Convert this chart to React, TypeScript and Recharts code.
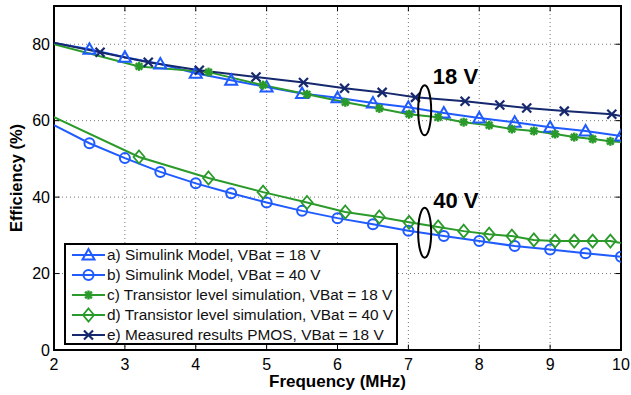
import { LineChart, Line, XAxis, YAxis, CartesianGrid, ReferenceLine, ReferenceArea, ReferenceDot, Label } from 'recharts'

const freqSimulink = [2, 2.5, 3, 3.5, 4, 4.5, 5, 5.5, 6, 6.5, 7, 7.5, 8, 8.5, 9, 9.5, 10]
const effSimulink18 = [80.3, 78.7, 76.6, 74.8, 72.4, 70.6, 68.8, 67.1, 66.0, 64.6, 63.5, 62.0, 60.7, 59.6, 58.3, 57.3, 56.0]
const effSimulink40 = [58.8, 54.1, 50.2, 46.6, 43.6, 41.0, 38.6, 36.4, 34.5, 32.9, 31.2, 29.8, 28.5, 27.2, 26.3, 25.3, 24.4]

const freqTransistor = [2, 3.2, 4.18, 4.95, 5.57, 6.11, 6.59, 7.01, 7.42, 7.78, 8.14, 8.46, 8.77, 9.07, 9.34, 9.6, 9.85, 10]
const effTransistor18 = [80.0, 74.2, 72.7, 69.3, 66.9, 64.8, 63.2, 61.7, 60.9, 59.6, 58.8, 57.8, 57.3, 56.5, 55.7, 55.2, 54.6, 54.4]
const effTransistor40 = [60.9, 50.5, 45.0, 41.3, 38.6, 36.1, 34.8, 33.4, 32.2, 31.1, 30.3, 29.8, 28.8, 28.5, 28.5, 28.5, 28.5, 28.0]

const freqMeasured = [2, 2.65, 3.33, 4.05, 4.85, 5.52, 6.1, 6.63, 7.1, 7.8, 8.29, 8.67, 9.2, 9.87, 10]
const effMeasured18 = [80.4, 77.9, 75.3, 73.2, 71.4, 70.0, 68.5, 67.4, 66.1, 65.1, 64.1, 63.3, 62.5, 61.7, 61.2]

const xTicks = [2, 3, 4, 5, 6, 7, 8, 9, 10]
const yTicks = [0, 20, 40, 60, 80]

const legendLabels = [
  'a) Simulink Model, VBat = 18 V',
  'b) Simulink Model, VBat = 40 V',
  'c) Transistor level simulation, VBat = 18 V',
  'd) Transistor level simulation, VBat = 40 V',
  'e) Measured results PMOS, VBat = 18 V',
]

// ellipse groups + their labels, in data units
const groupNotes = [
  { label: '18 V', f: 7.23, eff: 62.7, textF: 7.345, textEff: 69.5 },
  { label: '40 V', f: 7.23, eff: 30.7, textF: 7.35, textEff: 37.1 },
]

const BLUE = '#1f5bff'
const GREEN = '#2a9a2a'
const NAVY = '#16286e'
const FONT = '"Liberation Sans", Arial, Helvetica, sans-serif'

type Kind = 'tri' | 'circle' | 'star' | 'diamond' | 'x'

const zip = (xs: number[], ys: number[]) => xs.map((f, i) => ({ f, v: ys[i] }))

function Marker({ kind, cx, cy, color }: { kind: Kind; cx: number; cy: number; color: string }) {
  if (kind === 'tri') {
    return <polygon points={`${cx},${cy - 6} ${cx - 6},${cy + 4.5} ${cx + 6},${cy + 4.5}`} fill="none" stroke={color} strokeWidth={2} />
  }
  if (kind === 'circle') {
    return <circle cx={cx} cy={cy} r={5} fill="none" stroke={color} strokeWidth={2} />
  }
  if (kind === 'diamond') {
    return <polygon points={`${cx},${cy - 6.5} ${cx + 5.5},${cy} ${cx},${cy + 6.5} ${cx - 5.5},${cy}`} fill="none" stroke={color} strokeWidth={1.8} />
  }
  if (kind === 'x') {
    return (
      <g stroke={color} strokeWidth={2.2}>
        <line x1={cx - 4.5} y1={cy - 4.5} x2={cx + 4.5} y2={cy + 4.5} />
        <line x1={cx - 4.5} y1={cy + 4.5} x2={cx + 4.5} y2={cy - 4.5} />
      </g>
    )
  }
  return (
    <g stroke={color} strokeWidth={2.4}>
      <line x1={cx - 4.5} y1={cy} x2={cx + 4.5} y2={cy} />
      <line x1={cx} y1={cy - 4.5} x2={cx} y2={cy + 4.5} />
      <line x1={cx - 3.3} y1={cy - 3.3} x2={cx + 3.3} y2={cy + 3.3} />
      <line x1={cx - 3.3} y1={cy + 3.3} x2={cx + 3.3} y2={cy - 3.3} />
    </g>
  )
}

// first point never gets a marker; last one only when markLast
const dotFor = (kind: Kind, color: string, count: number, markLast: boolean) => (props: any) => {
  const { cx, cy, index } = props
  if (index === 0 || (!markLast && index === count - 1)) return <g key={`d-${index}`} />
  return <g key={`d-${index}`}><Marker kind={kind} cx={cx} cy={cy} color={color} /></g>
}

const series = [
  { name: 'a', data: zip(freqSimulink, effSimulink18), kind: 'tri' as Kind, color: BLUE, markLast: true },
  { name: 'b', data: zip(freqSimulink, effSimulink40), kind: 'circle' as Kind, color: BLUE, markLast: true },
  { name: 'c', data: zip(freqTransistor, effTransistor18), kind: 'star' as Kind, color: GREEN, markLast: false },
  { name: 'd', data: zip(freqTransistor, effTransistor40), kind: 'diamond' as Kind, color: GREEN, markLast: false },
  { name: 'e', data: zip(freqMeasured, effMeasured18), kind: 'x' as Kind, color: NAVY, markLast: false },
]

const X_MIN = 2
const X_MAX = 10
const Y_MAX = 90

export default function App() {
  return (
    <div style={{ position: 'absolute', left: 0, top: 0, width: 631, height: 395, background: '#fff', fontFamily: FONT }}>
      <LineChart width={631} height={395} margin={{ top: 6, right: 10, bottom: 0, left: 0 }}>
        <CartesianGrid stroke="#777" strokeDasharray="1 3" strokeWidth={1} />
        <XAxis
          type="number"
          dataKey="f"
          domain={[X_MIN, X_MAX]}
          ticks={xTicks}
          height={45}
          axisLine={false}
          tickLine={false}
          tickSize={0}
          tickMargin={9}
          tick={{ fill: '#000', fontSize: 16, fontFamily: FONT }}
          allowDataOverflow
        >
          <Label
            content={(p: any) => {
              const vb = p.viewBox
              return (
                <text x={vb.x + vb.width / 2} y={vb.y + 37} textAnchor="middle" fontWeight="bold" fontSize={17} fontFamily={FONT} fill="#000">
                  Frequency (MHz)
                </text>
              )
            }}
          />
        </XAxis>
        <YAxis
          type="number"
          domain={[0, Y_MAX]}
          ticks={yTicks}
          width={54}
          axisLine={false}
          tickLine={false}
          tickSize={0}
          tickMargin={4}
          tick={{ fill: '#000', fontSize: 16, fontFamily: FONT }}
          allowDataOverflow
        >
          <Label
            content={(p: any) => {
              const vb = p.viewBox
              return (
                <text transform={`translate(${vb.x + 22},${vb.y + vb.height / 2}) rotate(-90)`} textAnchor="middle" fontWeight="bold" fontSize={16.5} fontFamily={FONT} fill="#000">
                  Efficiency (%)
                </text>
              )
            }}
          />
        </YAxis>

        {/* inward ticks on all four sides */}
        {xTicks.map((t) => (
          <ReferenceLine key={`xb${t}`} segment={[{ x: t, y: 0 }, { x: t, y: 1.4 }]} stroke="#000" strokeWidth={1} />
        ))}
        {xTicks.map((t) => (
          <ReferenceLine key={`xt${t}`} segment={[{ x: t, y: Y_MAX }, { x: t, y: Y_MAX - 1.4 }]} stroke="#000" strokeWidth={1} />
        ))}
        {yTicks.map((t) => (
          <ReferenceLine key={`yl${t}`} segment={[{ x: X_MIN, y: t }, { x: X_MIN + 0.08, y: t }]} stroke="#000" strokeWidth={1} />
        ))}
        {yTicks.map((t) => (
          <ReferenceLine key={`yr${t}`} segment={[{ x: X_MAX, y: t }, { x: X_MAX - 0.08, y: t }]} stroke="#000" strokeWidth={1} />
        ))}

        {series.map((s) => (
          <Line
            key={s.name}
            data={s.data}
            dataKey="v"
            type="linear"
            stroke={s.color}
            strokeWidth={2}
            dot={dotFor(s.kind, s.color, s.data.length, s.markLast)}
            activeDot={false}
            isAnimationActive={false}
          />
        ))}

        <ReferenceArea x1={X_MIN} x2={X_MAX} y1={0} y2={Y_MAX} fill="none" fillOpacity={0} stroke="#000" strokeWidth={2} ifOverflow="visible" />

        {groupNotes.map((g) => (
          <ReferenceDot
            key={`e${g.label}`}
            x={g.f}
            y={g.eff}
            ifOverflow="visible"
            shape={(p: any) => <ellipse cx={p.cx} cy={p.cy} rx={6.5} ry={25} fill="none" stroke="#000" strokeWidth={2} />}
          />
        ))}
        {groupNotes.map((g) => (
          <ReferenceDot
            key={`t${g.label}`}
            x={g.textF}
            y={g.textEff}
            ifOverflow="visible"
            shape={(p: any) => (
              <text x={p.cx} y={p.cy} fontSize={22} fontWeight="bold" fontFamily={FONT} fill="#000">
                {g.label}
              </text>
            )}
          />
        ))}
      </LineChart>

      {/* legend box */}
      <div
        style={{
          position: 'absolute',
          left: 64,
          top: 243,
          width: 334,
          height: 102,
          boxSizing: 'border-box',
          border: '2px solid #000',
          background: '#fff',
        }}
      >
        {legendLabels.map((lbl, i) => (
          <div key={lbl} style={{ position: 'absolute', left: 6, top: i * 20, height: 20, display: 'flex', alignItems: 'center', whiteSpace: 'nowrap' }}>
            <svg width={33} height={20} style={{ display: 'block' }}>
              <line x1={0} y1={10} x2={33} y2={10} stroke={series[i].color} strokeWidth={2} />
              <Marker kind={series[i].kind} cx={16.5} cy={10} color={series[i].color} />
            </svg>
            <span style={{ marginLeft: 2, fontSize: 15.4, color: '#111', fontFamily: FONT }}>{lbl}</span>
          </div>
        ))}
      </div>
    </div>
  )
}
